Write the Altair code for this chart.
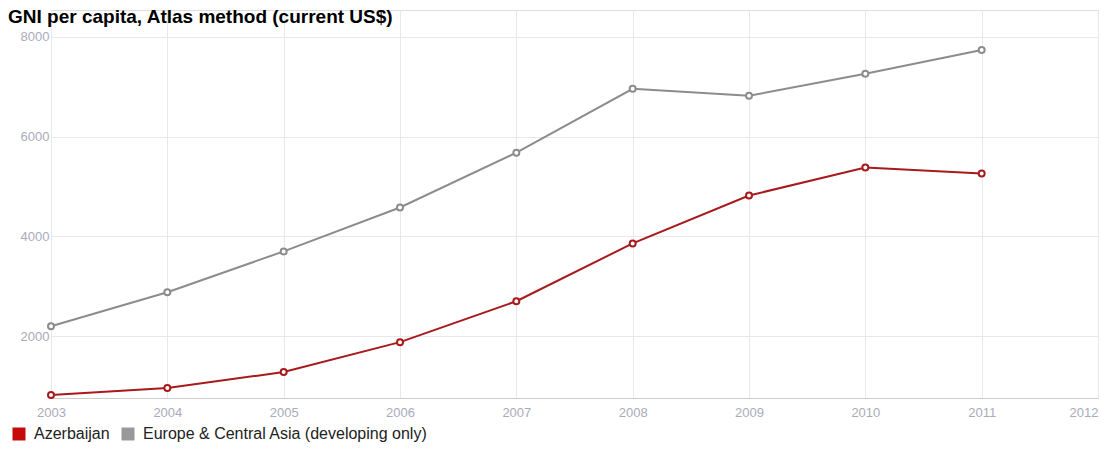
import altair as alt
import pandas as pd

years = [2003, 2004, 2005, 2006, 2007, 2008, 2009, 2010, 2011]
azerbaijan = [820, 960, 1280, 1880, 2700, 3860, 4820, 5380, 5260]
europe_ca = [2200, 2880, 3700, 4580, 5680, 6960, 6820, 7260, 7740]
series_names = ["Azerbaijan", "Europe & Central Asia (developing only)"]
line_colors = ["#a8191c", "#8c8c8c"]
legend_colors = ["#c40a0a", "#999999"]
x_ticks = [2003, 2004, 2005, 2006, 2007, 2008, 2009, 2010, 2011, 2012]
y_ticks = [2000, 4000, 6000, 8000]
title_text = "GNI per capita, Atlas method (current US$)"

rows = []
for yr, a, e in zip(years, azerbaijan, europe_ca):
    rows.append({"year": yr, "series": series_names[0], "key": series_names[0], "value": a})
    rows.append({"year": yr, "series": series_names[1], "key": series_names[1], "value": e})
df = pd.DataFrame(rows)

FONT = "Liberation Sans"
LABEL_COLOR = "#a9abbb"
GRID = "#e8e8e8"

x = alt.X(
    "year:Q",
    scale=alt.Scale(domain=[2003, 2012], nice=False, zero=False),
    axis=alt.Axis(values=x_ticks, format="d", title=None, grid=True, gridColor=GRID,
                  ticks=False, domainColor="#cccccc", labelColor=LABEL_COLOR,
                  labelFont=FONT, labelFontSize=13, labelPadding=8, labelFlush=False,
                  labelAlign=alt.expr("datum.value == 2012 ? 'right' : 'center'")),
)
y = alt.Y(
    "value:Q",
    scale=alt.Scale(domain=[760, 8540], nice=False, zero=False),
    axis=alt.Axis(values=y_ticks, format="d", title=None, grid=True, gridColor=GRID, ticks=False,
                  domain=False, labelColor=LABEL_COLOR, labelFont=FONT,
                  labelFontSize=13, labelPadding=2),
)

stroke_scale = alt.Scale(domain=series_names, range=line_colors)

lines = alt.Chart(df).mark_line(strokeWidth=2).encode(
    x=x, y=y, detail="series:N",
    stroke=alt.Stroke("series:N", scale=stroke_scale, legend=None),
)

# legend keys: tiny squares hidden under the point markers; data-driven domain
keys = alt.Chart(df).mark_square(size=10, filled=True, opacity=1).encode(
    x=x, y=y,
    color=alt.Color(
        "key:N",
        scale=alt.Scale(range=legend_colors),
        legend=alt.Legend(
            title=None, orient="none", direction="horizontal", legendX=-40, legendY=416,
            symbolType="square", symbolSize=169, symbolStrokeWidth=0, symbolOpacity=1,
            labelFont=FONT, labelFontSize=16, labelColor="#222222", labelLimit=500,
            columnPadding=10, padding=0, labelOffset=7,
        ),
    ),
)

points = alt.Chart(df).mark_point(size=36, filled=True, fill="white", strokeWidth=2, opacity=1).encode(
    x=x, y=y,
    stroke=alt.Stroke("series:N", scale=stroke_scale, legend=None),
)

chart = (
    alt.layer(lines, keys, points)
    .properties(
        width=1047,
        height=388,
        padding={"left": 43, "top": 2, "right": 8, "bottom": 44},
        autosize="none",
        title=alt.TitleParams(
            text=title_text, anchor="start", frame="group", offset=-17, dx=-43,
            font=FONT, fontSize=19, fontWeight="bold", color="#000000",
        ),
    )
    .configure_view(stroke="#e4e4e4")
    .configure(background="white")
)

chart.save("out.html", embed_options={"renderer": "svg", "actions": False})
